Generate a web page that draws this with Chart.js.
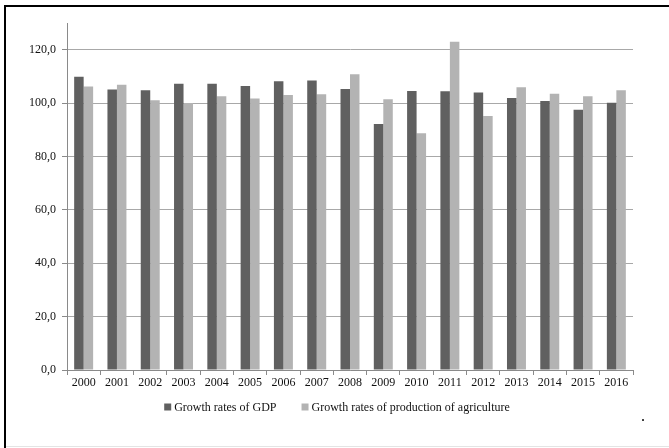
<!DOCTYPE html>
<html>
<head>
<meta charset="utf-8">
<script src="https://cdn.jsdelivr.net/npm/chart.js@4/dist/chart.umd.min.js"></script>
<style>
  html, body { margin: 0; padding: 0; background: #fff; overflow: hidden; }
  #wrap { position: relative; width: 669px; height: 448px; overflow: hidden; }
  #frame { position: absolute; left: 4px; top: 5px; width: 680px; height: 460px; border-left: 2px solid #000; border-top: 2px solid #000; pointer-events: none; }
  #baseline { position: absolute; left: 6px; right: 0; top: 446px; height: 1px; background: #e4e4e4; }
  #dot { position: absolute; left: 641px; top: 407px; font: 16px "Liberation Serif", serif; color: #000; }
  canvas { position: absolute; left: 0; top: 0; }
</style>
</head>
<body>
<div id="wrap">
  <canvas id="chart" width="669" height="448"></canvas>
  <div id="frame"></div>
  <div id="baseline"></div>
  <div id="dot">.</div>
</div>
<script>
// Years on the category axis
const years = ['2000','2001','2002','2003','2004','2005','2006','2007','2008',
               '2009','2010','2011','2012','2013','2014','2015','2016'];

// Growth rates (previous year = 100)
const gdpGrowth = [109.9, 105.1, 104.8, 107.2, 107.2, 106.4, 108.2, 108.5, 105.3,
                   92.2, 104.5, 104.4, 104.0, 101.9, 100.8, 97.5, 100.1];
const agriGrowth = [106.2, 106.9, 101.1, 100.0, 102.6, 101.7, 103.0, 103.3, 110.8,
                    101.4, 88.7, 123.0, 95.2, 105.9, 103.5, 102.6, 104.8];

const seriesNames = ['Growth rates of GDP', 'Growth rates of production of agriculture'];
const seriesColors = ['#606060', '#b3b3b3'];

const FONT = '"Liberation Serif", "Times New Roman", serif';

// Legend drawn centred below the category labels
const bottomLegend = {
  id: 'bottomLegend',
  afterDraw(chart) {
    const ctx = chart.ctx;
    ctx.save();
    ctx.font = '12px ' + FONT;
    ctx.textBaseline = 'middle';
    const box = 7, gapText = 3, gapItem = 25;
    const items = chart.data.datasets.map(ds => ({
      label: ds.label, color: ds.backgroundColor,
      w: box + gapText + ctx.measureText(ds.label).width
    }));
    const total = items.reduce((s, it) => s + it.w, 0) + gapItem * (items.length - 1);
    let x = 337 - total / 2;
    const y = 407;
    items.forEach(it => {
      ctx.fillStyle = it.color;
      ctx.fillRect(x, y - box / 2, box, box);
      ctx.fillStyle = '#111';
      ctx.fillText(it.label, x + box + gapText, y + 1);
      x += it.w + gapItem;
    });
    ctx.restore();
  }
};

new Chart(document.getElementById('chart'), {
  type: 'bar',
  data: {
    labels: years,
    datasets: [
      { label: seriesNames[0], data: gdpGrowth, backgroundColor: seriesColors[0] },
      { label: seriesNames[1], data: agriGrowth, backgroundColor: seriesColors[1] }
    ]
  },
  options: {
    responsive: false,
    animation: false,
    events: [],
    categoryPercentage: 0.57,
    barPercentage: 1.0,
    layout: { padding: { left: 8, right: 36, top: 23, bottom: 48 } },
    plugins: { legend: { display: false }, tooltip: { enabled: false } },
    scales: {
      x: {
        grid: { offset: true, drawOnChartArea: false, drawTicks: true, tickLength: 5, tickColor: '#8a8a8a' },
        border: { color: '#8a8a8a', width: 1 },
        ticks: { font: { family: FONT, size: 12 }, color: '#111', padding: 1, maxRotation: 0, autoSkip: false },
        afterFit(scale) { scale.height = 30; }
      },
      y: {
        min: 0,
        max: 130,
        grid: { color: '#a8a8a8', tickColor: '#8a8a8a', tickLength: 5 },
        border: { color: '#8a8a8a', width: 1 },
        ticks: {
          stepSize: 20,
          includeBounds: false,
          font: { family: FONT, size: 12 },
          color: '#111',
          padding: 6,
          callback: v => v.toFixed(1).replace('.', ',')
        },
        afterFit(scale) { scale.width = 59; }
      }
    }
  },
  plugins: [bottomLegend]
});
</script>
</body>
</html>
